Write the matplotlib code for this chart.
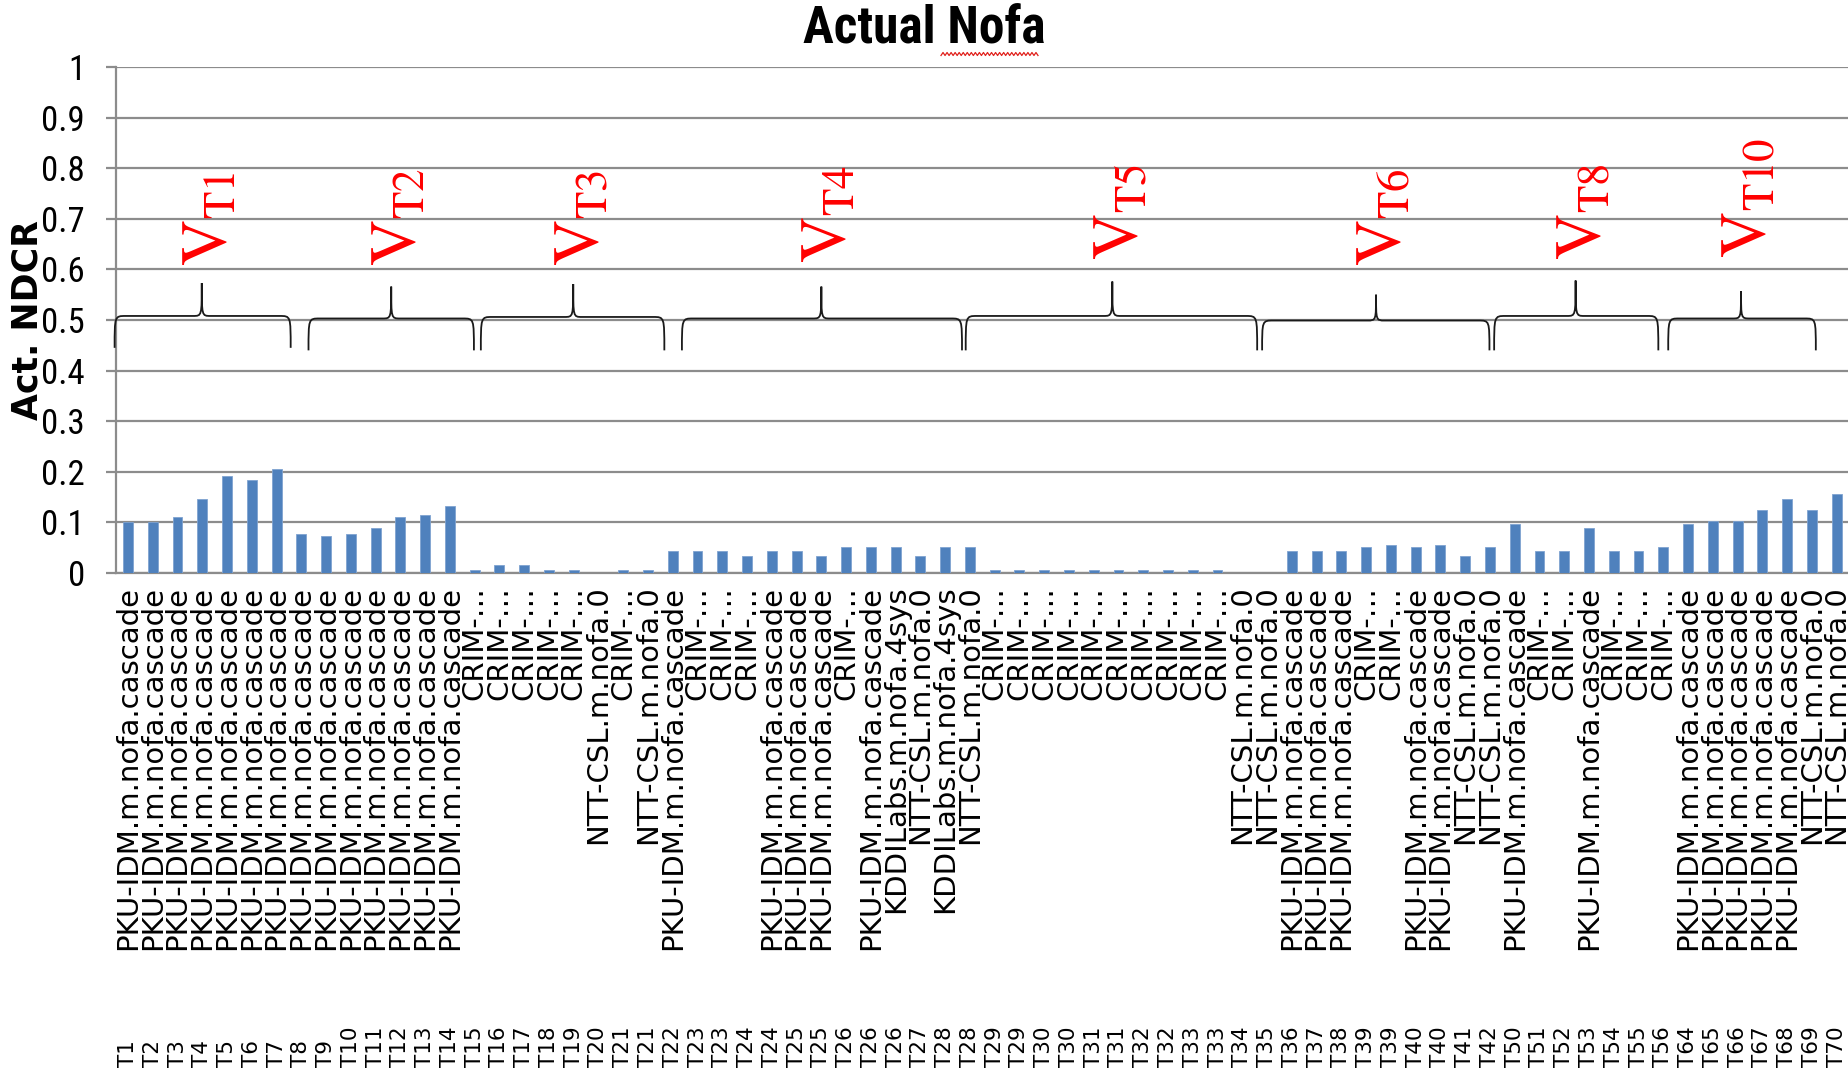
import numpy as np
import matplotlib
matplotlib.use("Agg")
import matplotlib.pyplot as plt
from matplotlib.path import Path
from matplotlib.patches import PathPatch
from matplotlib import transforms, font_manager
from matplotlib.font_manager import FontProperties
from matplotlib.lines import Line2D

plt.rcParams["mathtext.fontset"] = "stix"

# ---- data -------------------------------------------------------------
PKU = "PKU-IDM.m.nofa.cascade"
CRIM = "CRIM-…"
NTT = "NTT-CSL.m.nofa.0"
KDDI = "KDDILabs.m.nofa.4sys"

systems = ([PKU] * 14 + [CRIM] * 5 +
           [NTT, CRIM, NTT, PKU, CRIM, CRIM, CRIM, PKU, PKU, PKU,
            CRIM, PKU, KDDI, NTT, KDDI, NTT] +
           [CRIM] * 10 +
           [NTT, NTT, PKU, PKU, PKU, CRIM, CRIM, PKU, PKU, NTT, NTT,
            PKU, CRIM, CRIM, PKU, CRIM, CRIM, CRIM] +
           [PKU] * 5 + [NTT, NTT])

tasks = ["T1", "T2", "T3", "T4", "T5", "T6", "T7", "T8", "T9", "T10",
         "T11", "T12", "T13", "T14", "T15", "T16", "T17", "T18", "T19", "T20",
         "T21", "T21", "T22", "T23", "T23", "T24", "T24", "T25", "T25", "T26",
         "T26", "T26", "T27", "T28", "T28", "T29", "T29", "T30", "T30", "T31",
         "T31", "T32", "T32", "T33", "T33", "T34", "T35", "T36", "T37", "T38",
         "T39", "T39", "T40", "T40", "T41", "T42", "T50", "T51", "T52", "T53",
         "T54", "T55", "T56", "T64", "T65", "T66", "T67", "T68", "T69", "T70"]

ndcr = [0.100, 0.100, 0.110, 0.147, 0.192, 0.183, 0.206, 0.078, 0.074, 0.078,
        0.088, 0.110, 0.115, 0.133, 0.006, 0.015, 0.015, 0.006, 0.006, 0.000,
        0.006, 0.006, 0.043, 0.043, 0.043, 0.034, 0.043, 0.043, 0.034, 0.051,
        0.051, 0.051, 0.034, 0.051, 0.051, 0.006, 0.006, 0.006, 0.006, 0.006,
        0.006, 0.006, 0.006, 0.006, 0.006, 0.000, 0.000, 0.043, 0.043, 0.043,
        0.051, 0.056, 0.051, 0.056, 0.034, 0.051, 0.097, 0.043, 0.043, 0.088,
        0.043, 0.043, 0.051, 0.097, 0.102, 0.102, 0.124, 0.147, 0.124, 0.156]

yticks = [0, 0.1, 0.2, 0.3, 0.4, 0.5, 0.6, 0.7, 0.8, 0.9, 1.0]
ytick_labels = ["0", "0.1", "0.2", "0.3", "0.4", "0.5", "0.6", "0.7", "0.8", "0.9", "1"]

# Transformation groups: name, brace start, brace end, brace tip (bar units),
# brace end height, flat height, tip height, label base height
groups = [
    ("T1", -0.54, 6.57, 2.98, 0.445, 0.508, 0.573, 0.607),
    ("T2", 7.29, 13.97, 10.63, 0.440, 0.503, 0.566, 0.607),
    ("T3", 14.25, 21.66, 17.98, 0.440, 0.506, 0.571, 0.607),
    ("T4", 22.37, 33.68, 28.00, 0.440, 0.503, 0.566, 0.613),
    ("T5", 33.83, 45.60, 39.75, 0.440, 0.508, 0.576, 0.618),
    ("T6", 45.80, 54.98, 50.40, 0.440, 0.499, 0.550, 0.607),
    ("T8", 55.17, 61.80, 58.46, 0.440, 0.508, 0.578, 0.618),
    ("T10", 62.20, 68.16, 65.14, 0.440, 0.503, 0.557, 0.622),
]


def condensed_font(bold):
    """Path of an installed condensed/narrow sans face, or None."""
    narrow = {"ultra-condensed", "extra-condensed", "condensed", "semi-condensed"}
    prefs = ["Roboto Condensed", "Liberation Sans Narrow", "Open Sans Condensed",
             "Noto Sans", "Open Sans", "Roboto", "DejaVu Sans", "Noto Sans Display",
             "Inter", "Lato"]
    target = 700 if bold else 400
    best = None
    for f in font_manager.fontManager.ttflist:
        st = f.stretch
        if isinstance(st, str):
            if st not in narrow:
                continue
        elif st >= 500:
            continue
        if f.style != "normal":
            continue
        w = f.weight if isinstance(f.weight, (int, float)) else font_manager.weight_dict.get(f.weight, 400)
        if bold != (w >= 600):
            continue
        rank = prefs.index(f.name) if f.name in prefs else len(prefs)
        key = (rank, abs(w - target))
        if best is None or key < best[0]:
            best = (key, f.fname)
    return None if best is None else best[1]


def fprops(bold, size):
    path = condensed_font(bold)
    if path is not None:
        return FontProperties(fname=path, size=size), True
    return FontProperties(family="Liberation Sans",
                          weight="bold" if bold else "normal", size=size), False


# ---- figure -----------------------------------------------------------
W, H = 1849, 1071
fig = plt.figure(figsize=(W / 100, H / 100), dpi=100)
ax = fig.add_axes([115.6 / W, 1 - 573 / H, 1 - 115.6 / W, (573 - 67) / H])

x = np.arange(len(ndcr))
ax.bar(x, ndcr, width=0.4, color="#4F81BD", edgecolor="#7FA3D1", linewidth=0.6, zorder=3)

ax.set_xlim(-0.5, len(ndcr) - 0.5)
ax.set_ylim(0, 1)
ax.set_yticks(yticks)
ax.set_yticklabels(ytick_labels)
tick_fp, tick_narrow = fprops(False, 25)
if not tick_narrow:
    tick_fp.set_size(22)
for lab in ax.get_yticklabels():
    lab.set_fontproperties(tick_fp)
ax.yaxis.grid(True, color="#8C8C8C", linewidth=1.6, zorder=0)
ax.set_axisbelow(True)

for side in ("top", "right"):
    ax.spines[side].set_visible(False)
ax.spines["left"].set_color("#8C8C8C")
ax.spines["left"].set_linewidth(1.6)
ax.spines["bottom"].set_color("#8C8C8C")
ax.spines["bottom"].set_linewidth(1.6)
ax.tick_params(axis="y", length=7, width=1.6, color="#8C8C8C", pad=15)

ax.set_xticks(x)
ax.set_xticklabels(systems, rotation=90, fontsize=21, fontfamily="DejaVu Sans")
ax.tick_params(axis="x", length=0, pad=9)

# outer category row: task names along the bottom edge of the figure
tr = transforms.blended_transform_factory(ax.transData, fig.transFigure)
for xi, t in zip(x, tasks):
    ax.text(xi, 0.004, t, rotation=90, ha="center", va="bottom",
            fontsize=15.5, fontfamily="DejaVu Sans", transform=tr, clip_on=False)

ax.set_ylabel("Act. NDCR", fontsize=25, fontweight="bold", fontfamily="DejaVu Sans")
ax.yaxis.set_label_coords(-0.041, 0.5)

title_fp, title_narrow = fprops(True, 37)
if not title_narrow:
    title_fp.set_size(30)
fig.text(0.5, 0.996, "Actual Nofa", ha="center", va="top", fontproperties=title_fp)

# spell-check style squiggle under the second word of the title
sx = np.linspace(941, 1038, 49)
sy = np.where(np.arange(49) % 2 == 0, 55.5, 52.5)
fig.add_artist(Line2D(sx / W, 1 - sy / H, color="#E0201B", linewidth=0.9,
                      transform=fig.transFigure))


# ---- braces and group labels -----------------------------------------
def brace(x0, x1, xm, yb, yf, yt, r=0.45, s=0.35):
    verts = [
        (x0, yb), (x0, yf), (x0, yf), (x0 + r, yf),
        (xm - s, yf),
        (xm, yf), (xm, yf), (xm, yt),
        (xm, yf), (xm, yf), (xm + s, yf),
        (x1 - r, yf),
        (x1, yf), (x1, yf), (x1, yb),
    ]
    codes = [Path.MOVETO, Path.CURVE4, Path.CURVE4, Path.CURVE4,
             Path.LINETO,
             Path.CURVE4, Path.CURVE4, Path.CURVE4,
             Path.CURVE4, Path.CURVE4, Path.CURVE4,
             Path.LINETO,
             Path.CURVE4, Path.CURVE4, Path.CURVE4]
    return Path(verts, codes)


for name, x0, x1, xm, yb, yf, yt, ylab in groups:
    ax.add_patch(PathPatch(brace(x0, x1, xm, yb, yf, yt), facecolor="none",
                           edgecolor="#1A1A1A", linewidth=1.3, zorder=4, clip_on=False))
    ax.text(xm + 0.3, ylab, r"$\mathrm{V}_{\mathrm{%s}}$" % name, rotation=90,
            ha="center", va="bottom", color="#FF0000", fontsize=46, zorder=5)

fig.savefig("out.png", dpi=100)
